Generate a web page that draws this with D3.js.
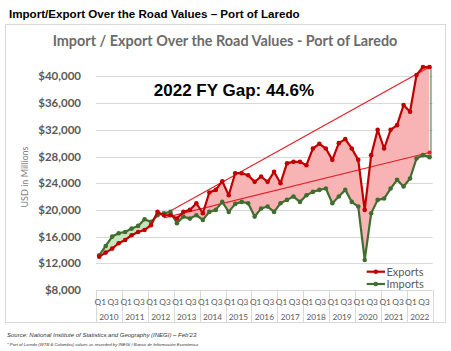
<!DOCTYPE html>
<html><head><meta charset="utf-8">
<script src="https://cdn.jsdelivr.net/npm/d3@7"></script>
<style>body{margin:0;background:#fff} svg{display:block}</style>
</head><body>
<svg id="c" width="451" height="351"></svg>
<script>
// ---- data (USD millions, quarterly) ----
const years = ["2010","2011","2012","2013","2014","2015","2016","2017","2018","2019","2020","2021","2022"];
const quarterLabels = ["Q1","Q2","Q3","Q4"];
const shownQuarters = ["Q1","Q3"];
const exportsM = [
  13000,13600,14200,15000,
  15500,16200,16700,17000,
  17700,19700,19200,19200,
  18700,19700,20000,21000,
  19500,22600,23000,24300,
  22200,25500,25500,25200,
  24200,25000,24200,25700,
  24000,27000,27200,27200,
  26700,29200,29900,29200,
  27500,30000,30600,29200,
  27500,20000,28200,32000,
  29200,32000,32700,35700,
  34700,40200,41400,41400];
const importsM = [
  13200,14600,16000,16500,
  16700,17200,17600,18600,
  18200,19200,19500,19700,
  18000,19000,18700,19200,
  18500,19700,20000,21200,
  19700,20900,21200,21000,
  19000,20200,20500,19700,
  21000,21500,22000,21200,
  22200,22700,23000,23200,
  21000,22000,23000,21200,
  20500,12500,19500,21500,
  21700,23200,24500,23500,
  24700,27700,28200,27900];
const trendIndex = [10, 51];
const exportsTrend = [19300, 41400];
const importsTrend = [18800, 28600];
const yTicks = [8000,12000,16000,20000,24000,28000,32000,36000,40000];
const seriesNames = ["Exports","Imports"];

// ---- layout ----
const svg = d3.select("#c");
const L = 96, R = 432.7;
const categories = [];
years.forEach(yr => quarterLabels.forEach(q => categories.push({year: yr, q})));
const xb = d3.scaleBand().domain(d3.range(categories.length)).range([L, R]).padding(0);
const cx = i => xb(i) + xb.bandwidth() / 2;
const xYear = d3.scaleBand().domain(years).range([L, R]).padding(0);
const y = d3.scaleLinear().domain([8000, 44000]).range([290, 49.7]);

const RED = "#c00000", GREEN = "#3f6e30", TREND = "#e3202b";
const FONT = "Lato, 'Open Sans', sans-serif";

// outer title
svg.append("text").attr("x", 9).attr("y", 18)
  .attr("font-family", "'Liberation Sans', Arial, sans-serif").attr("font-weight", "bold")
  .attr("font-size", 11.6).attr("fill", "#000")
  .text("Import/Export Over the Road Values – Port of Laredo");

// chart box
svg.append("rect").attr("x", 5.5).attr("y", 24.5).attr("width", 440).attr("height", 298)
  .attr("fill", "none").attr("stroke", "#d9d9d9");

// inner title
svg.append("text").attr("x", 225).attr("y", 46).attr("text-anchor", "middle")
  .attr("font-family", FONT).attr("font-weight", "bold").attr("font-size", 14.4)
  .attr("fill", "#6b6b6b")
  .text("Import / Export Over the Road Values - Port of Laredo");

// gridlines + y labels
svg.append("g").selectAll("line").data(yTicks).join("line")
  .attr("x1", L).attr("x2", R).attr("y1", d => Math.round(y(d)) + 0.5).attr("y2", d => Math.round(y(d)) + 0.5)
  .attr("stroke", "#d9d9d9").attr("stroke-width", 1);
svg.append("g").selectAll("text").data(yTicks).join("text")
  .attr("x", 81).attr("y", d => y(d)).attr("dy", "0.35em").attr("text-anchor", "end")
  .attr("font-family", FONT).attr("font-weight", "bold").attr("font-size", 11.5).attr("fill", "#595959")
  .text(d => d3.format("$,")(d));

// y axis title
svg.append("text").attr("transform", "translate(28,177) rotate(-90)").attr("text-anchor", "middle")
  .attr("font-family", FONT).attr("font-size", 9).attr("fill", "#7f7f7f").text("USD in Millions");

// x axis: year separators, quarter labels, years
const bounds = years.map(yr => xYear(yr)).concat([R]);
svg.append("g").selectAll("line").data(bounds).join("line")
  .attr("x1", d => Math.round(d) + 0.5).attr("x2", d => Math.round(d) + 0.5)
  .attr("y1", 290).attr("y2", 323).attr("stroke", "#d9d9d9");
svg.append("g").selectAll("text")
  .data(categories.map((c, i) => ({...c, i})).filter(c => shownQuarters.includes(c.q)))
  .join("text")
  .attr("x", d => cx(d.i) + 1).attr("y", 304.5).attr("text-anchor", "middle")
  .attr("font-family", FONT).attr("font-size", 8.3).attr("fill", "#595959").text(d => d.q);
svg.append("g").selectAll("text").data(years).join("text")
  .attr("x", d => xYear(d) + xYear.bandwidth() / 2).attr("y", 319.5).attr("text-anchor", "middle")
  .attr("font-family", FONT).attr("font-size", 8.3).attr("fill", "#595959").text(d => d);

// difference fills
const data = exportsM.map((e, i) => ({i, e, m: importsM[i]}));
const defs = svg.append("defs");
defs.append("clipPath").attr("id", "below").append("path")
  .attr("d", d3.area().x(d => cx(d.i)).y0(300).y1(d => y(d.e))(data));
defs.append("clipPath").attr("id", "above").append("path")
  .attr("d", d3.area().x(d => cx(d.i)).y0(40).y1(d => y(d.e))(data));
const between = d3.area().x(d => cx(d.i)).y0(d => y(d.m)).y1(d => y(d.e));
svg.append("path").attr("d", between(data)).attr("fill", "#f8b4b4").attr("clip-path", "url(#below)");
svg.append("path").attr("d", between(data)).attr("fill", "#c9e3bd").attr("clip-path", "url(#above)");

// closing edge at right end
const last = data[data.length - 1];
svg.append("line").attr("x1", cx(last.i) + 1.5).attr("x2", cx(last.i) + 1.5)
  .attr("y1", y(last.e)).attr("y2", y(last.m)).attr("stroke", GREEN).attr("stroke-width", 1);

// trend lines
[exportsTrend, importsTrend].forEach(t => {
  const pts = trendIndex.map((k, j) => [cx(k), y(t[j])]);
  svg.append("path").attr("d", d3.line()(pts)).attr("fill", "none")
    .attr("stroke", TREND).attr("stroke-width", 1.2);
  svg.append("circle").attr("cx", pts[1][0]).attr("cy", pts[1][1]).attr("r", 2).attr("fill", TREND);
});

// series lines
const line = d3.line().x((d, i) => cx(i)).y(d => y(d));
[[importsM, GREEN], [exportsM, RED]].forEach(([vals, col]) => {
  svg.append("path").attr("d", line(vals)).attr("fill", "none")
    .attr("stroke", col).attr("stroke-width", 2.2).attr("stroke-linejoin", "round");
  svg.append("g").selectAll("circle").data(vals).join("circle")
    .attr("cx", (d, i) => cx(i)).attr("cy", d => y(d)).attr("r", 2.3).attr("fill", col);
});

// gap annotation
svg.append("text").attr("x", 234).attr("y", 96).attr("text-anchor", "middle")
  .attr("font-family", "'Liberation Sans', Arial, sans-serif").attr("font-weight", "bold")
  .attr("font-size", 17).attr("fill", "#000").text("2022 FY Gap: 44.6%");

// legend
const lg = svg.append("g");
[[seriesNames[0], RED, 271.7], [seriesNames[1], GREEN, 284]].forEach(([name, col, ly]) => {
  lg.append("line").attr("x1", 366.7).attr("x2", 385).attr("y1", ly).attr("y2", ly)
    .attr("stroke", col).attr("stroke-width", 2.2);
  lg.append("circle").attr("cx", 375.8).attr("cy", ly).attr("r", 2.3).attr("fill", col);
  lg.append("text").attr("x", 386.5).attr("y", ly).attr("dy", "0.35em")
    .attr("font-family", FONT).attr("font-size", 11).attr("fill", "#595959").text(name);
});

// source notes
svg.append("text").attr("x", 7).attr("y", 336.5)
  .attr("font-family", "'Liberation Sans', Arial, sans-serif").attr("font-style", "italic")
  .attr("font-size", 6).attr("fill", "#333")
  .text("Source: National Institute of Statistics and Geography (INEGI) – Feb'23");
svg.append("text").attr("x", 7).attr("y", 346)
  .attr("font-family", "'Liberation Sans', Arial, sans-serif").attr("font-style", "italic")
  .attr("font-size", 4.3).attr("fill", "#333")
  .text("* Port of Laredo (WTB & Colombia) values as recorded by INEGI / Banco de Información Económica");
</script>
</body></html>
